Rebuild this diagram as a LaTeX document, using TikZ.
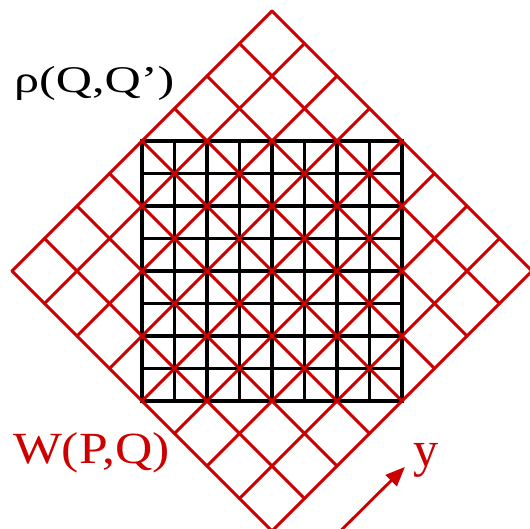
\documentclass[tikz,border=0pt]{standalone}
\usepackage{fontspec}
\setmainfont{Liberation Serif}
\usetikzlibrary{arrows.meta,positioning}
\definecolor{wred}{RGB}{204,0,0}

\begin{document}
\begin{tikzpicture}[
  cellgrid/.style={line width=2.7pt,black,line cap=rect},
  wgrid/.style={line width=2.7pt,wred,line cap=round},
  lab/.style={inner sep=0pt,anchor=base west},
  ar/.style={-{Triangle[length=6mm,width=4.8mm]},line width=2.5pt,wred}]

\useasboundingbox (-4.369,-3.938) rectangle (11.938,12.338);
\clip (-4.369,-3.938) rectangle (11.938,12.338);

% fine square grid
\foreach \i in {0,...,8} {
  \draw[cellgrid] (\i,0) -- (\i,8);
  \draw[cellgrid] (0,\i) -- (8,\i);
}

% rotated grid, drawn on top
\foreach \c in {0,2,...,16} {
  \draw[wgrid] ({(\c-8)/2},{(\c+8)/2}) -- ({(\c+8)/2},{(\c-8)/2});
}
\foreach \d in {-8,-6,...,8} {
  \draw[wgrid] ({\d/2},{-\d/2}) -- ({(16+\d)/2},{(16-\d)/2});
}

\node[lab,font=\fontsize{33}{33}\selectfont] (rho) at (-3.94,9.48)
  {\scalebox{1.33}[1]{ρ(Q,Q’)}};
\node[lab,font=\fontsize{39}{39}\selectfont,text=wred] (wpq) at (-3.97,-1.91)
  {\scalebox{1.16}[1]{W(P,Q)}};

\coordinate (ytail) at (5.5,-4.6);
\coordinate (yhead) at (8.09,-2.03);
\draw[ar] (ytail) -- (yhead);
\node[lab,font=\fontsize{44}{44}\selectfont,text=wred] (ylab) at ([xshift=0.25cm]yhead) {y};
\end{tikzpicture}
\end{document}
